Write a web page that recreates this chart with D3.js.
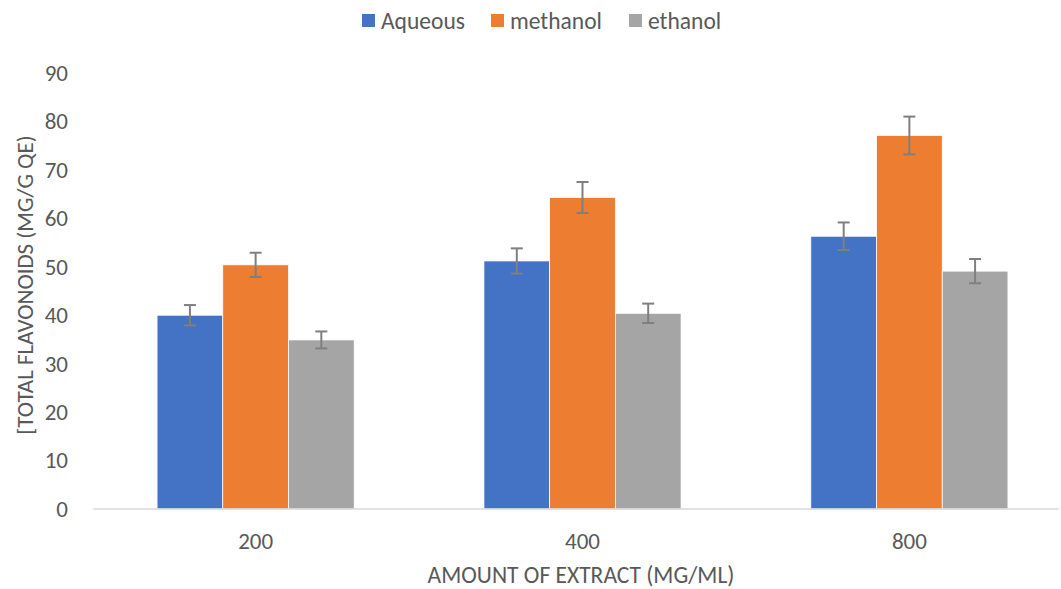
<!DOCTYPE html>
<html><head><meta charset="utf-8">
<script src="https://cdn.jsdelivr.net/npm/d3@7"></script>
<style>body{margin:0;background:#fff}svg{display:block}text{font-family:Carlito,Lato,"Open Sans","Liberation Sans",sans-serif;fill:#595959}</style>
</head><body><svg id="c" width="1061" height="589"></svg>
<script>
const categories = ["200","400","800"];
const seriesNames = ["Aqueous","methanol","ethanol"];
const aqueous = [40.0, 51.2, 56.3];
const methanol = [50.4, 64.3, 77.1];
const ethanol = [34.9, 40.4, 49.1];
const aqueousErr = [2.1, 2.6, 2.85];
const methanolErr = [2.5, 3.2, 3.9];
const ethanolErr = [1.75, 2.0, 2.5];
const yTicks = [0,10,20,30,40,50,60,70,80,90];
const colors = ["#4472C4","#ED7D31","#A5A5A5"];

const values = [aqueous, methanol, ethanol];
const errs = [aqueousErr, methanolErr, ethanolErr];
const svg = d3.select("#c");
const m = {left:93, right:1072, top:73, bottom:509, axisEnd:1059};
const x = d3.scaleBand().domain(categories).range([m.left, m.right]).paddingInner(0.397).paddingOuter(0.196);
const xs = d3.scaleBand().domain(seriesNames).range([0, x.bandwidth()]);
const y = d3.scaleLinear().domain([0,90]).range([m.bottom, m.top]);

// y tick labels
const ya = svg.append("g").attr("transform",`translate(${m.left},0)`)
  .call(d3.axisLeft(y).tickValues(yTicks).tickSize(0).tickPadding(25));
ya.select(".domain").remove();
ya.selectAll("text").style("font-size","23px").attr("fill","#595959");

// bars
seriesNames.forEach((s,i)=>{
  svg.append("g").selectAll("rect").data(categories).join("rect")
    .attr("x", c=>x(c)+xs(s)).attr("width", xs.bandwidth())
    .attr("y", (c,j)=>y(values[i][j])).attr("height",(c,j)=>y(0)-y(values[i][j]))
    .attr("fill", colors[i]).attr("stroke","#fff").attr("stroke-width",0.75);
});

// axis line
const xa = svg.append("g").attr("transform",`translate(0,${m.bottom})`)
  .call(d3.axisBottom(x).tickSize(0).tickPadding(24));
xa.select(".domain").remove();
xa.append("line").attr("x1",m.left).attr("x2",m.axisEnd).attr("stroke","#D9D9D9").attr("stroke-width",1.3);
xa.selectAll("text").style("font-size","23px").attr("fill","#595959");

// error bars
seriesNames.forEach((s,i)=>{
  const g = svg.append("g").attr("stroke","#7F7F7F").attr("stroke-width",2);
  categories.forEach((c,j)=>{
    const cx = x(c)+xs(s)+xs.bandwidth()/2;
    const v = values[i][j], e = errs[i][j];
    g.append("line").attr("x1",cx).attr("x2",cx).attr("y1",y(v+e)).attr("y2",y(v-e));
    g.append("line").attr("x1",cx-6).attr("x2",cx+6).attr("y1",y(v+e)).attr("y2",y(v+e));
    g.append("line").attr("x1",cx-6).attr("x2",cx+6).attr("y1",y(v-e)).attr("y2",y(v-e));
  });
});

// axis titles
svg.append("text").attr("x",581).attr("y",583).attr("text-anchor","middle")
  .style("font-size","23.5px").text("AMOUNT OF EXTRACT (MG/ML)");
svg.append("text").attr("transform","translate(33,285) rotate(-90)").attr("text-anchor","middle")
  .style("font-size","23px").text("[TOTAL FLAVONOIDS (MG/G QE)");

// legend
const lx = [362, 491, 629];
seriesNames.forEach((s,i)=>{
  svg.append("rect").attr("x",lx[i]).attr("y",14).attr("width",13).attr("height",13).attr("fill",colors[i]);
  svg.append("text").attr("x",lx[i]+19).attr("y",29).style("font-size","23.5px").text(s);
});
</script></body></html>
